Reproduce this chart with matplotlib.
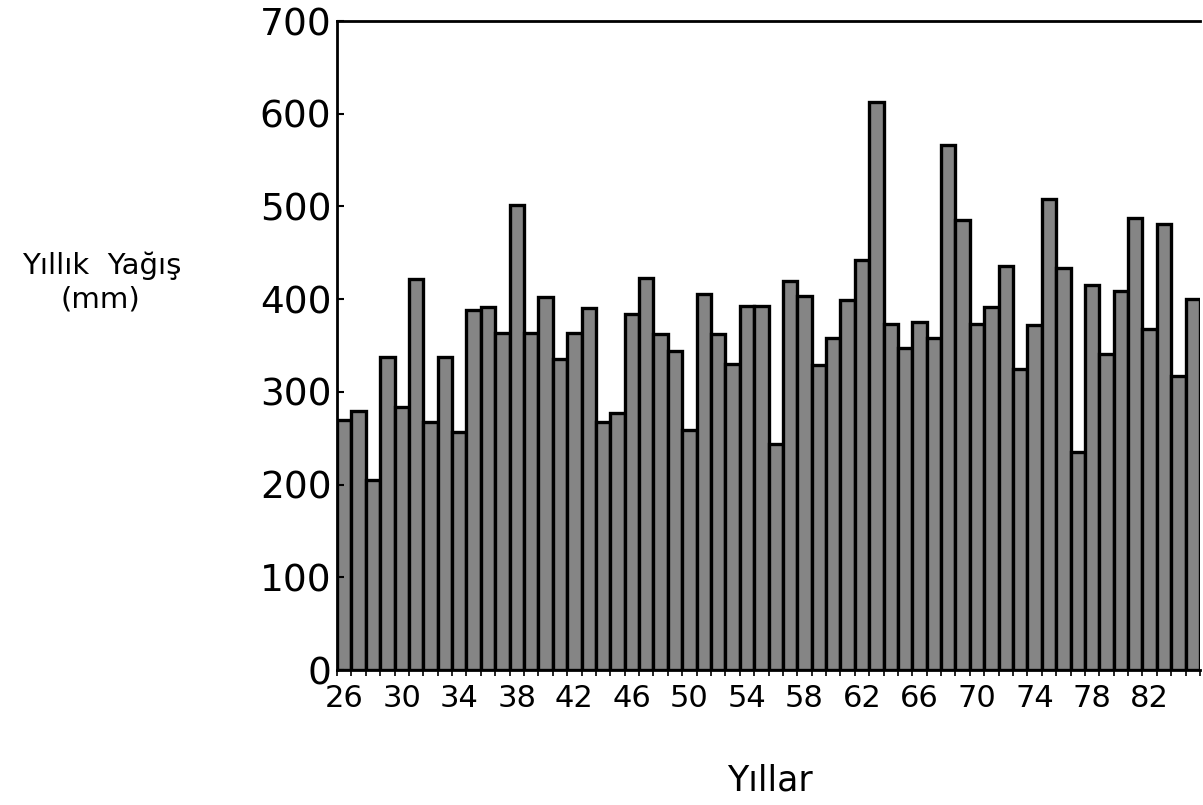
import matplotlib
matplotlib.use("Agg")
import matplotlib.pyplot as plt
import numpy as np

# Data: annual precipitation (mm), years 1926-1985
years = list(range(26, 86))
rain = [270, 279, 205, 338, 284, 422, 267, 338, 257, 388,
        392, 363, 502, 363, 402, 335, 363, 390, 268, 277,
        384, 423, 362, 344, 259, 406, 362, 330, 393, 393,
        244, 420, 403, 329, 358, 399, 442, 613, 373, 347,
        375, 358, 566, 485, 373, 392, 436, 325, 372, 508,
        434, 235, 415, 341, 409, 487, 368, 481, 317, 400]
xtick_labels = ["26", "30", "34", "38", "42", "46", "50", "54",
                "58", "62", "66", "70", "74", "78", "82"]
yticks = [0, 100, 200, 300, 400, 500, 600, 700]

plt.rcParams['font.family'] = ['DejaVu Sans']

fig = plt.figure(figsize=(12.03, 8.05), dpi=100)
ax = fig.add_axes([337/1203, 1 - 670/805, (1200 - 337)/1203, (670 - 21)/805])

x = np.arange(len(years))
ax.bar(x, rain, width=1.0, color='#858585', edgecolor='black', linewidth=2.4)

ax.set_xlim(-0.5, len(years) - 0.5)
ax.set_ylim(0, 700)

ax.spines['right'].set_visible(False)
for s in ['left', 'top', 'bottom']:
    ax.spines[s].set_linewidth(2.0)

# x ticks: labels every 4 years at bar centres
pos = [years.index(int(l)) for l in xtick_labels]
ax.set_xticks(pos)
ax.set_xticklabels(xtick_labels, fontsize=22)
ax.tick_params(axis='x', which='major', length=0, pad=10)
ax.set_xticks(np.arange(-0.5, len(years), 1.0), minor=True)
ax.tick_params(axis='x', which='minor', length=4, width=1.2, direction='out')

ax.set_yticks(yticks)
ax.set_yticklabels([str(v) for v in yticks], fontsize=27)
ax.tick_params(axis='y', which='major', length=5, width=1.5, direction='in', pad=4)

fig.text(102/1203, 1 - 266/805, "Yıllık  Yağış", fontsize=21, ha='center', va='center')
fig.text(100/1203, 1 - 299/805, "(mm)", fontsize=21, ha='center', va='center')
fig.text(770/1203, 1 - 780/805, "Yıllar", fontsize=25, ha='center', va='center')

fig.savefig("out.png", dpi=100)
